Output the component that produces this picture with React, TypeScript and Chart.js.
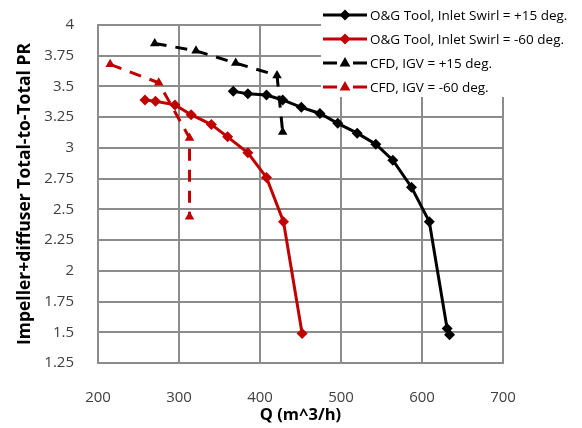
import React, { useEffect, useRef } from "react";
import { Chart, registerables } from "chart.js";

Chart.register(...registerables);

const ogP15Q = [367, 385, 408, 428, 451, 474, 496, 520, 543, 564, 587, 609, 631, 634];
const ogP15PR = [3.46, 3.44, 3.43, 3.39, 3.33, 3.28, 3.2, 3.12, 3.03, 2.9, 2.68, 2.4, 1.53, 1.48];
const ogM60Q = [258, 271, 295, 315, 340, 360, 385, 408, 429, 452];
const ogM60PR = [3.39, 3.38, 3.35, 3.27, 3.19, 3.09, 2.96, 2.76, 2.4, 1.49];
const cfdP15Q = [270, 321, 370, 421, 428];
const cfdP15PR = [3.85, 3.79, 3.69, 3.59, 3.13];
const cfdM60Q = [215, 275, 313, 313];
const cfdM60PR = [3.68, 3.53, 3.08, 2.44];

const xTicks = [200, 300, 400, 500, 600, 700];
const yTicks = [1.25, 1.5, 1.75, 2, 2.25, 2.5, 2.75, 3, 3.25, 3.5, 3.75, 4];

const seriesLabels = [
  "O&G Tool, Inlet Swirl = +15 deg.",
  "O&G Tool, Inlet Swirl = -60 deg.",
  "CFD, IGV = +15 deg.",
  "CFD, IGV = -60 deg.",
];
const xTitle = "Q (m^3/h)";
const yTitle = "Impeller+diffuser Total-to-Total PR";

const BLACK = "#000000";
const RED = "#c00000";
const GRID = "#8c8c8c";
const FONT = "'Open Sans', 'DejaVu Sans', sans-serif";

const pts = (q: number[], p: number[]) => q.map((x, i) => ({ x, y: p[i] }));

function drawMarker(ctx: CanvasRenderingContext2D, kind: string, x: number, y: number, r: number, color: string) {
  ctx.save();
  ctx.fillStyle = color;
  ctx.beginPath();
  if (kind === "diamond") {
    ctx.moveTo(x, y - r);
    ctx.lineTo(x + r, y);
    ctx.lineTo(x, y + r);
    ctx.lineTo(x - r, y);
  } else {
    ctx.moveTo(x, y - r);
    ctx.lineTo(x + r * 0.9, y + r * 0.6);
    ctx.lineTo(x - r * 0.9, y + r * 0.6);
  }
  ctx.closePath();
  ctx.fill();
  ctx.restore();
}

// grid as filled 2px bars placed through the library's scales
const gridPlugin = {
  id: "excelGrid",
  beforeDatasetsDraw(chart: any) {
    const ctx = chart.ctx as CanvasRenderingContext2D;
    const xs = chart.scales.x;
    const ys = chart.scales.y;
    const a = chart.chartArea;
    const top = Math.round(a.top);
    const bottom = Math.round(a.bottom);
    const left = Math.round(a.left);
    const right = Math.round(a.right);
    ctx.save();
    ctx.fillStyle = GRID;
    xTicks.forEach((v) => {
      const px = Math.round(xs.getPixelForValue(v));
      ctx.fillRect(px - 1, top - 1, 2, bottom - top + 2);
    });
    yTicks.forEach((v) => {
      const py = Math.round(ys.getPixelForValue(v));
      ctx.fillRect(left - 1, py - 1, right - left + 2, 2);
    });
    ctx.restore();
  },
};

const legendPlugin = {
  id: "customLegend",
  afterDraw(chart: any) {
    const ctx = chart.ctx as CanvasRenderingContext2D;
    ctx.save();
    ctx.fillStyle = "#ffffff";
    ctx.fillRect(321, 0, 261, 97);
    const rows = [15, 39, 63, 87];
    const kinds = [
      { color: BLACK, dashed: false, marker: "diamond" },
      { color: RED, dashed: false, marker: "diamond" },
      { color: BLACK, dashed: true, marker: "triangle" },
      { color: RED, dashed: true, marker: "triangle" },
    ];
    let size = 16;
    ctx.font = `${size}px ${FONT}`;
    while (ctx.measureText(seriesLabels[0]).width > 199 && size > 8) {
      size -= 0.25;
      ctx.font = `${size}px ${FONT}`;
    }
    rows.forEach((y, i) => {
      const k = kinds[i];
      ctx.strokeStyle = k.color;
      ctx.lineWidth = 3;
      ctx.setLineDash([]);
      ctx.beginPath();
      if (k.dashed) {
        ctx.moveTo(323, y);
        ctx.lineTo(337, y);
        ctx.moveTo(353, y);
        ctx.lineTo(367, y);
      } else {
        ctx.moveTo(323, y);
        ctx.lineTo(367, y);
      }
      ctx.stroke();
      drawMarker(ctx, k.marker, 345, y, k.marker === "diamond" ? 5.5 : 6, k.color);
      ctx.fillStyle = "#000000";
      ctx.textAlign = "left";
      ctx.textBaseline = "middle";
      ctx.fillText(seriesLabels[i], 370, y + 1);
    });
    ctx.restore();
  },
};

export default function App() {
  const ref = useRef<HTMLCanvasElement | null>(null);
  useEffect(() => {
    document.body.style.margin = "0";
    const canvas = ref.current!;
    const chart = new Chart(canvas, {
      type: "line",
      data: {
        datasets: [
          {
            label: seriesLabels[0],
            data: pts(ogP15Q, ogP15PR),
            borderColor: BLACK,
            backgroundColor: BLACK,
            borderWidth: 3,
            pointStyle: "rectRot",
            pointRadius: 5.5,
            pointBorderWidth: 0,
          },
          {
            label: seriesLabels[1],
            data: pts(ogM60Q, ogM60PR),
            borderColor: RED,
            backgroundColor: RED,
            borderWidth: 3,
            pointStyle: "rectRot",
            pointRadius: 5.5,
            pointBorderWidth: 0,
          },
          {
            label: seriesLabels[2],
            data: pts(cfdP15Q, cfdP15PR),
            borderColor: BLACK,
            backgroundColor: BLACK,
            borderWidth: 3,
            borderDash: [12, 9],
            pointStyle: "triangle",
            pointRadius: 5.5,
            pointBorderWidth: 0,
          },
          {
            label: seriesLabels[3],
            data: pts(cfdM60Q, cfdM60PR),
            borderColor: RED,
            backgroundColor: RED,
            borderWidth: 3,
            borderDash: [12, 9],
            pointStyle: "triangle",
            pointRadius: 5.5,
            pointBorderWidth: 0,
          },
        ],
      },
      options: {
        animation: false,
        responsive: false,
        maintainAspectRatio: false,
        layout: { padding: { top: 18, right: 79, left: 15, bottom: 0 } },
        plugins: { legend: { display: false }, tooltip: { enabled: false } },
        elements: { line: { tension: 0 } },
        scales: {
          x: {
            type: "linear",
            min: 200,
            max: 700,
            afterBuildTicks: (s: any) => {
              s.ticks = xTicks.map((v) => ({ value: v }));
            },
            afterFit: (s: any) => {
              s.height = 65;
            },
            grid: { display: false },
            border: { display: false },
            ticks: {
              padding: 18,
              color: "#404040",
              font: { family: FONT, size: 15 },
              maxRotation: 0,
            },
            title: {
              display: true,
              text: xTitle,
              color: "#000000",
              font: { family: FONT, size: 16.5, weight: "bold" },
              padding: { top: 0, bottom: 3 },
            },
          },
          y: {
            type: "linear",
            min: 1.25,
            max: 4,
            afterBuildTicks: (s: any) => {
              s.ticks = yTicks.map((v) => ({ value: v }));
            },
            afterFit: (s: any) => {
              s.width = 83;
            },
            grid: { display: false },
            border: { display: false },
            ticks: {
              padding: 16,
              color: "#404040",
              font: { family: FONT, size: 15 },
              callback: (v: any) => String(Number(Number(v).toFixed(2))),
            },
            title: {
              display: true,
              text: yTitle,
              color: "#000000",
              font: { family: FONT, size: 17.5, weight: "bold" },
              padding: { top: 0, bottom: 0 },
            },
          },
        },
      },
      plugins: [gridPlugin, legendPlugin],
    });
    return () => chart.destroy();
  }, []);
  return <canvas ref={ref} width={582} height={428} style={{ display: "block" }} />;
}
